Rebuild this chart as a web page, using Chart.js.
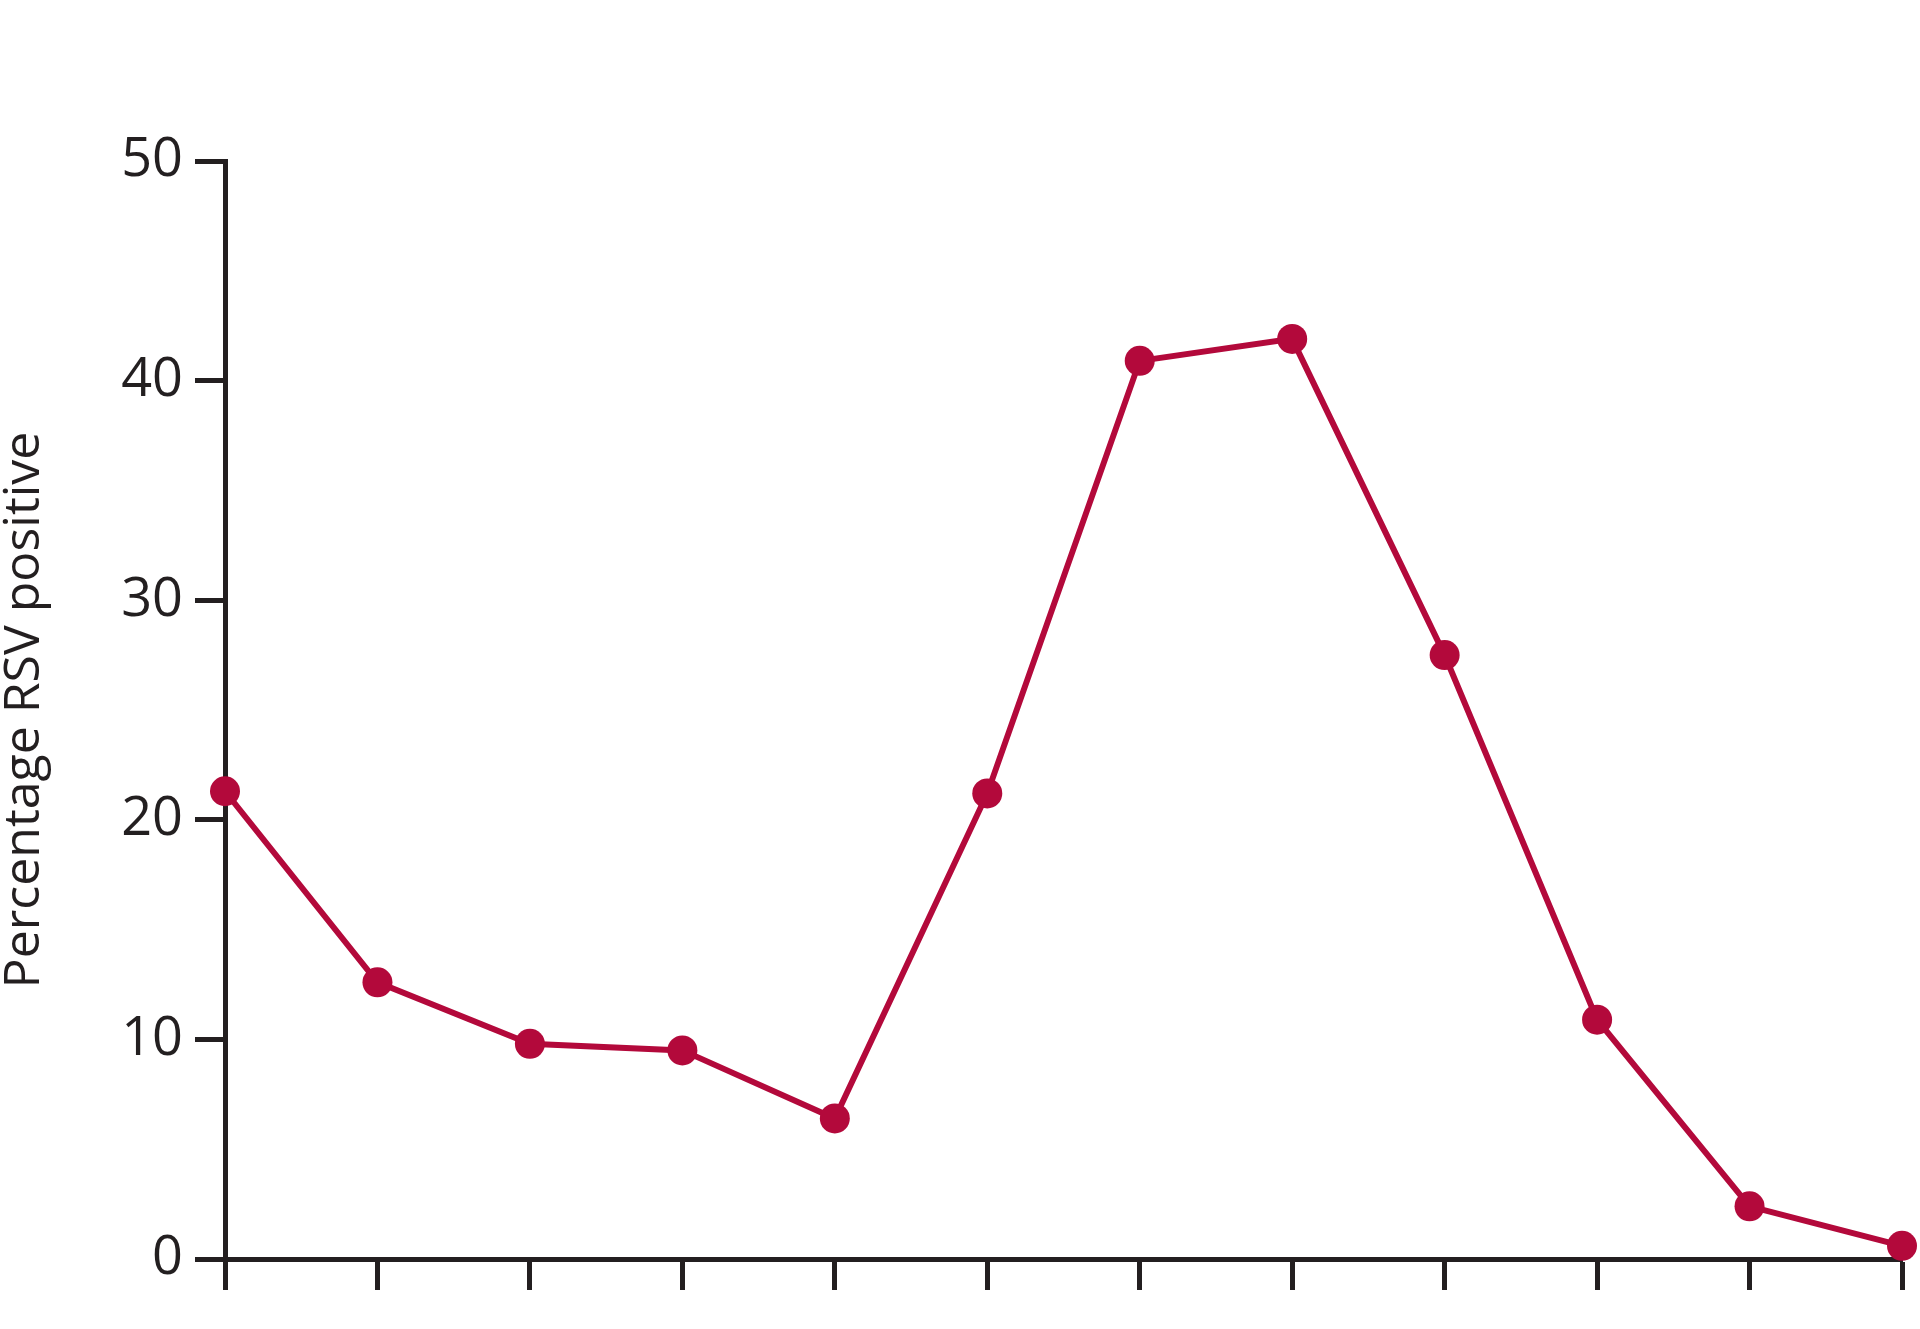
<!DOCTYPE html>
<html>
<head>
<meta charset="utf-8">
<title>Percentage RSV positive</title>
<script src="https://cdn.jsdelivr.net/npm/chart.js@4/dist/chart.umd.min.js"></script>
<style>
  html, body { margin: 0; padding: 0; background: #fff; }
  #chart-wrap { width: 1920px; height: 1329px; }
</style>
</head>
<body>
<div id="chart-wrap"><canvas id="rsv-chart" width="1920" height="1329"></canvas></div>
<script>
// --- DATA ---
// x axis has tick marks only, no printed labels
const periods = ['1', '2', '3', '4', '5', '6', '7', '8', '9', '10', '11', '12'];
const rsvPositive = [21.3, 12.6, 9.8, 9.5, 6.4, 21.2, 40.9, 41.9, 27.5, 10.9, 2.4, 0.6];
const yTicks = [0, 10, 20, 30, 40, 50];
const yTitle = 'Percentage RSV positive';

// --- STYLE ---
const INK = '#231f20';
const RED = '#b3093b';

const chartCanvas = document.getElementById('rsv-chart');

new Chart(chartCanvas, {
    type: 'line',
    data: {
        labels: periods,
        datasets: [{
            label: yTitle,
            data: rsvPositive,
            borderColor: RED,
            backgroundColor: RED,
            borderWidth: 6,
            pointRadius: 15,
            pointBorderWidth: 0,
            pointBackgroundColor: RED,
            tension: 0,
            clip: false
        }]
    },
    options: {
        responsive: false,
        animation: false,
        devicePixelRatio: 1,
        layout: { padding: { left: 0, right: 18, top: 161, bottom: 39 } },
        plugins: {
            legend: { display: false },
            tooltip: { enabled: false }
        },
        scales: {
            x: {
                offset: false,
                grid: {
                    drawOnChartArea: false,
                    drawTicks: true,
                    tickLength: 31,
                    tickWidth: 5,
                    tickColor: INK
                },
                border: { display: true, color: INK, width: 5 },
                ticks: { display: false }
            },
            y: {
                min: 0,
                max: 50,
                afterBuildTicks: scale => {
                    scale.ticks = yTicks.map(v => ({ value: v }));
                },
                afterFit: scale => { scale.width = 225; },
                grid: {
                    drawOnChartArea: false,
                    drawTicks: true,
                    tickLength: 30,
                    tickWidth: 5,
                    tickColor: INK
                },
                border: { display: true, color: INK, width: 5 },
                ticks: {
                    color: INK,
                    padding: 12,
                    font: { family: 'Open Sans', size: 54 }
                },
                title: {
                    display: true,
                    text: yTitle,
                    color: INK,
                    padding: 0,
                    font: { family: 'Open Sans', size: 50, lineHeight: 1 }
                }
            }
        }
    }
});
</script>
</body>
</html>
